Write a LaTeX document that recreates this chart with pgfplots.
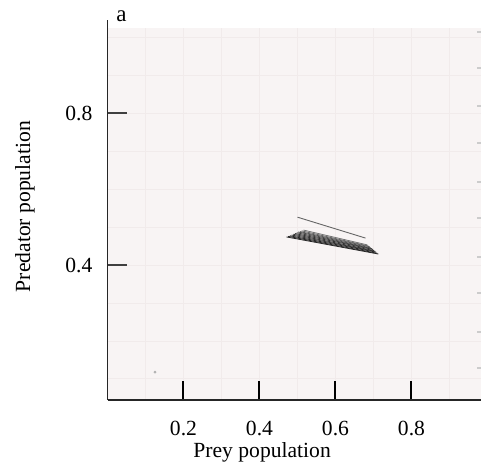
\documentclass[border=0pt]{standalone}
\usepackage{pgfplots}
\pgfplotsset{compat=1.18}
\usepackage{fontspec}
\setmainfont{Liberation Serif}
\definecolor{plotbg}{HTML}{F8F4F4}
\definecolor{gridc}{HTML}{F1EBEB}

\begin{document}
\begin{tikzpicture}
\useasboundingbox (-53.75pt,-33pt) rectangle (186.75pt,200pt);
\begin{axis}[
  at={(0,0)}, anchor=south west,
  scale only axis, width=186.75pt, height=186pt,
  xmin=0, xmax=0.983, ymin=0.0447, ymax=1.024,
  axis x line*=bottom, axis y line*=left,
  axis line style={-, line width=0.8pt, black!85},
  axis background/.style={fill=plotbg},
  xtick={0.2,0.4,0.6,0.8}, ytick={0.4,0.8},
  minor xtick={0.1,0.3,0.5,0.7,0.9},
  minor ytick={0.1,0.2,0.3,0.5,0.6,0.7,0.9,1.0},
  grid=both,
  major grid style={gridc, line width=0.5pt},
  minor grid style={gridc, line width=0.5pt},
  minor tick length=0pt,
  major tick length=9.5pt,
  tick align=inside,
  xtick style={line width=1pt, black},
  ytick style={line width=0.75pt, black!75},
  xticklabel style={yshift=-7pt},
  yticklabel style={xshift=-4pt},
  /pgf/number format/assume math mode=true,
  /pgf/number format/fixed,
  tick label style={font=\fontsize{10.8}{13}\selectfont},
  label style={font=\fontsize{10.8}{13}\selectfont},
  xlabel={Prey population},
  ylabel={Predator population},
  xlabel style={at={(axis description cs:0.414,-0.14)}, anchor=center},
  ylabel style={at={(axis description cs:-0.221,0.52)}, anchor=center, rotate=0},
  clip=false,
]
% trajectory bundle near the coexistence point
\addplot[black!85, line width=0.4pt] coordinates {(0.471,0.474) (0.713,0.429)};
\addplot[black!85, line width=0.4pt] coordinates {(0.4755,0.4755) (0.710,0.431)};
\addplot[black!85, line width=0.4pt] coordinates {(0.480,0.477) (0.707,0.434)};
\addplot[black!80, line width=0.4pt] coordinates {(0.4845,0.479) (0.7045,0.436)};
\addplot[black!80, line width=0.4pt] coordinates {(0.489,0.481) (0.7016,0.438)};
\addplot[black!80, line width=0.4pt] coordinates {(0.493,0.483) (0.699,0.441)};
\addplot[black!75, line width=0.4pt] coordinates {(0.498,0.485) (0.696,0.443)};
\addplot[black!70, line width=0.4pt] coordinates {(0.502,0.487) (0.693,0.445)};
\addplot[black!65, line width=0.4pt] coordinates {(0.507,0.488) (0.690,0.448)};
\addplot[black!60, line width=0.4pt] coordinates {(0.511,0.490) (0.687,0.450)};
\addplot[black!55, line width=0.4pt] coordinates {(0.516,0.492) (0.684,0.453)};
% outer transient
\addplot[black!60, line width=0.45pt] coordinates {(0.500,0.526) (0.679,0.471)};
% stray point
\addplot[only marks, mark=*, mark size=0.5pt, black!30] coordinates {(0.125,0.118)};
% top of the vertical axis line and panel letter
\draw[line width=0.8pt, black!85] (axis cs:0,1.024) -- (axis cs:0,1.045);
\node[anchor=base west, inner sep=0pt, font=\fontsize{11.5}{13}\selectfont] at (axis cs:0.022,1.04) {a};
\end{axis}
% small marks along the right edge
\begin{axis}[
  at={(0,0)}, anchor=south west,
  scale only axis, width=186.75pt, height=186pt,
  xmin=0, xmax=0.983, ymin=0.0447, ymax=1.024,
  axis x line=none, axis y line*=right,
  axis line style={draw=none},
  ytick={0.129,0.224,0.326,0.421,0.524,0.618,0.721,0.818,0.918,1.013},
  yticklabels={},
  major tick length=2pt, tick align=inside,
  ytick style={line width=0.9pt, black!20},
]
\end{axis}
\end{tikzpicture}
\end{document}
